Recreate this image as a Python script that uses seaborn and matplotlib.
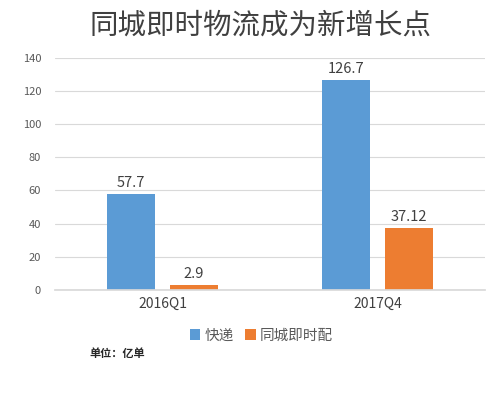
import matplotlib
matplotlib.use("Agg")
import matplotlib.pyplot as plt
import seaborn as sns
import pandas as pd

categories = ["2016Q1", "2017Q4"]
series_names = ["快递", "同城即时配"]
express = [57.7, 126.7]
same_city = [2.9, 37.12]
value_labels = [["57.7", "126.7"], ["2.9", "37.12"]]
yticks = [0, 20, 40, 60, 80, 100, 120, 140]

df = pd.DataFrame({
    "cat": categories * 2,
    "series": [series_names[0]] * 2 + [series_names[1]] * 2,
    "value": express + same_city,
})

sns.set_theme(style="white")
plt.rcParams['font.family'] = ['Noto Sans CJK SC', 'DejaVu Sans']

fig = plt.figure(figsize=(5, 3.96), dpi=100)
ax = fig.add_axes([0.11, 0.268, 0.86, 0.586])
palette = {"快递": "#5B9BD5", "同城即时配": "#ED7D31"}
sns.barplot(data=df, x="cat", y="value", hue="series", palette=palette,
            width=0.586, gap=0.24, ax=ax, legend=True, saturation=1,
            linewidth=0, edgecolor="none")

ax.set_ylim(0, 140)
ax.set_yticks(yticks)
ax.set_yticklabels([str(v) for v in yticks], fontsize=8, color="#595959")
ax.set_xlim(-0.5, 1.5)
ax.set_xticks([0, 1])
ax.set_xticklabels(categories, fontsize=10, color="#404040")
ax.tick_params(axis='y', length=0, pad=10)
ax.tick_params(axis='x', length=0, pad=5)
ax.yaxis.grid(True, color="#D9D9D9", linewidth=0.8)
ax.set_axisbelow(True)
for s in ["top", "right", "left"]:
    ax.spines[s].set_visible(False)
ax.spines["bottom"].set_color("#D9D9D9")
ax.set_xlabel("")
ax.set_ylabel("")

for cont, labels in zip(ax.containers, value_labels):
    ax.bar_label(cont, labels=labels, padding=3, fontsize=10.5, color="#404040")

leg = ax.legend(loc="upper center", bbox_to_anchor=(0.48, -0.11), ncol=2,
                frameon=False, fontsize=10.5, handlelength=0.7, handleheight=0.7,
                handletextpad=0.3, columnspacing=0.8)
for t in leg.get_texts():
    t.set_color("#595959")

fig.text(0.522, 0.935, "同城即时物流成为新增长点", ha="center", va="center",
         fontsize=20.5, color="#404040")
fig.text(0.178, 0.108, "单位：亿单", ha="left", va="center", fontsize=8,
         color="#262626", fontweight="bold")

fig.savefig("out.png", dpi=100)
